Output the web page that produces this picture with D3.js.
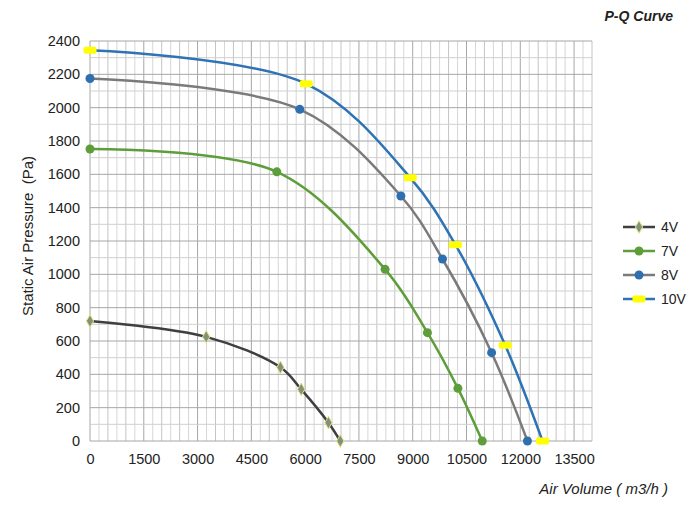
<!DOCTYPE html>
<html><head><meta charset="utf-8">
<script src="https://cdn.jsdelivr.net/npm/d3@7/dist/d3.min.js"></script>
<style>body{margin:0;background:#fff;}svg{display:block;font-family:"Liberation Sans",Arial,sans-serif;}</style>
</head><body><svg id="c" width="700" height="514"></svg>
<script>
const seriesNames = ["4V", "7V", "8V", "10V"];
const airVolume4V  = [0, 3240, 5310, 5890, 6650, 6980];
const pressure4V   = [720, 625, 442, 310, 110, 0];
const airVolume7V  = [0, 5210, 8230, 9410, 10260, 10940];
const pressure7V   = [1752, 1615, 1030, 650, 316, 0];
const airVolume8V  = [0, 5850, 8670, 9830, 11200, 12200];
const pressure8V   = [2175, 1990, 1470, 1092, 530, 0];
const airVolume10V = [0, 6030, 8930, 10190, 11580, 12620];
const pressure10V  = [2345, 2143, 1580, 1178, 574, 0];
const xTicks = [0, 1500, 3000, 4500, 6000, 7500, 9000, 10500, 12000, 13500];
const yTicks = [0, 200, 400, 600, 800, 1000, 1200, 1400, 1600, 1800, 2000, 2200, 2400];

const svg = d3.select("#c");
const L = 90, R = 592, T = 41, B = 441;
const x = d3.scaleLinear().domain([0, 14000]).range([L, R]);
const y = d3.scaleLinear().domain([0, 2400]).range([B, T]);

// grid
const g = svg.append("g");
d3.range(0, 14001, 250).forEach(v => {
  const major = v % 1500 === 0, mid = v % 500 === 0;
  g.append("line").attr("x1", x(v)).attr("x2", x(v)).attr("y1", T).attr("y2", B)
    .attr("stroke", major ? "#a6a6a6" : (mid ? "#c4c4c4" : "#d6d6d6")).attr("stroke-width", 1);
});
d3.range(0, 2401, 100).forEach(v => {
  const major = v % 200 === 0;
  g.append("line").attr("x1", L).attr("x2", R).attr("y1", y(v)).attr("y2", y(v))
    .attr("stroke", major ? "#a6a6a6" : "#d0d0d0").attr("stroke-width", 1);
});

// axes
const xAxis = d3.axisBottom(x).tickValues(xTicks).tickSize(0).tickPadding(13).tickFormat(d3.format("d"));
const xg = svg.append("g").attr("transform", `translate(0,${B})`).call(xAxis);
xg.select(".domain").remove();
xg.selectAll("text").attr("font-size", 14.5).attr("fill", "#222").attr("font-family", "Liberation Sans, Arial");
const yAxis = d3.axisLeft(y).tickValues(yTicks).tickSize(0).tickPadding(10).tickFormat(d3.format("d"));
const yg = svg.append("g").attr("transform", `translate(${L},0)`).call(yAxis);
yg.select(".domain").remove();
yg.selectAll("text").attr("font-size", 14.5).attr("fill", "#222").attr("font-family", "Liberation Sans, Arial");

// labels
svg.append("text").attr("transform", "translate(33,236) rotate(-90)").attr("text-anchor", "middle")
  .style("white-space", "pre")
  .attr("font-size", 15).attr("fill", "#222").text("Static Air Pressure  (Pa)");
svg.append("text").attr("x", 668).attr("y", 494).attr("text-anchor", "end")
  .attr("font-size", 15).attr("font-style", "italic").attr("fill", "#222").text("Air Volume ( m3/h )");
svg.append("text").attr("x", 673).attr("y", 21).attr("text-anchor", "end")
  .attr("font-size", 14).attr("font-style", "italic").attr("font-weight", "bold").attr("fill", "#222").text("P-Q Curve");

const series = [
  {name: seriesNames[0], xs: airVolume4V, ys: pressure4V, line: "#3f3f3f", marker: "diamond", fill: "#7f927f", stroke: "#e6e27a"},
  {name: seriesNames[1], xs: airVolume7V, ys: pressure7V, line: "#5e9e3a", marker: "circle", fill: "#5e9e3a", stroke: "#5e9e3a"},
  {name: seriesNames[2], xs: airVolume8V, ys: pressure8V, line: "#7a7a7a", marker: "circle", fill: "#2f6fb0", stroke: "#2f6fb0"},
  {name: seriesNames[3], xs: airVolume10V, ys: pressure10V, line: "#2e73b5", marker: "dash", fill: "#ffff00", stroke: "#ffff00"}
];

const lineGen = d3.line().x(d => x(d[0])).y(d => y(d[1])).curve(d3.curveCatmullRom.alpha(0.5));

function drawMarker(sel, s, cx, cy) {
  if (s.marker === "circle") {
    sel.append("circle").attr("cx", cx).attr("cy", cy).attr("r", 4.5).attr("fill", s.fill);
  } else if (s.marker === "dash") {
    sel.append("rect").attr("x", cx - 6.5).attr("y", cy - 3.5).attr("width", 13).attr("height", 7).attr("rx", 2).attr("fill", s.fill);
  } else {
    sel.append("path").attr("d", d3.symbol().type(d3.symbolDiamond).size(45)()).attr("transform", `translate(${cx},${cy})`)
      .attr("fill", s.fill).attr("stroke", s.stroke).attr("stroke-width", 1);
  }
}

series.forEach(s => {
  const pts = s.xs.map((v, i) => [v, s.ys[i]]);
  svg.append("path").datum(pts).attr("d", lineGen).attr("fill", "none").attr("stroke", s.line).attr("stroke-width", 2.5);
  const mg = svg.append("g");
  pts.forEach(p => drawMarker(mg, s, x(p[0]), y(p[1])));
});

// legend
const legY = [227, 251, 275, 299];
series.forEach((s, i) => {
  const lg = svg.append("g");
  lg.append("line").attr("x1", 623).attr("x2", 655).attr("y1", legY[i]).attr("y2", legY[i]).attr("stroke", s.line).attr("stroke-width", 2.5);
  drawMarker(lg, s, 639, legY[i]);
  lg.append("text").attr("x", 661).attr("y", legY[i] + 5).attr("font-size", 14).attr("fill", "#222").text(s.name);
});
</script></body></html>
